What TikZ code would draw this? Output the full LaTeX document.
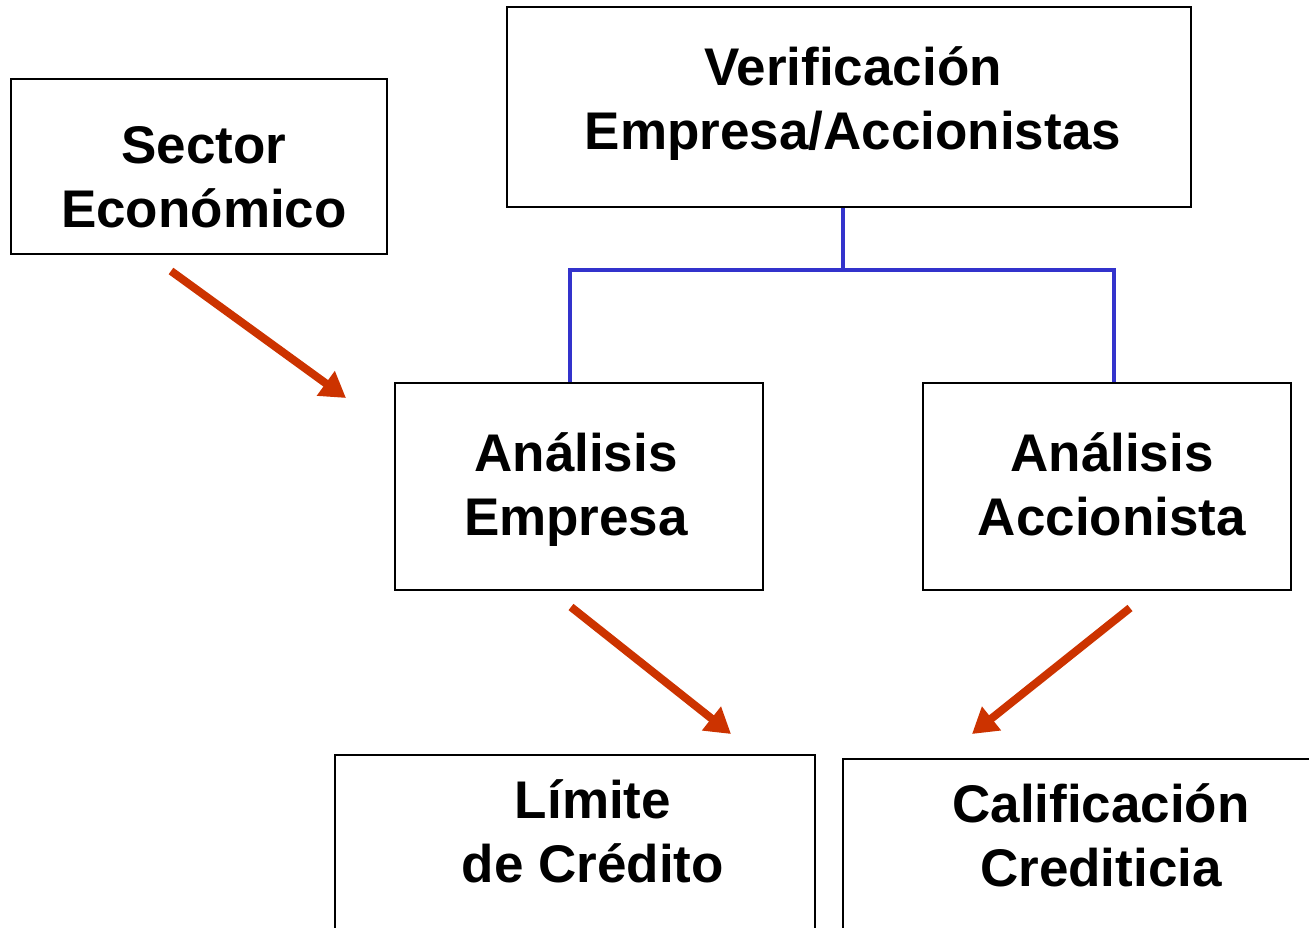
\documentclass[tikz,border=0pt]{standalone}
\usepackage{fontspec}
\setmainfont{Liberation Sans}
\usetikzlibrary{arrows.meta}
\definecolor{redarrow}{HTML}{CC3300}
\definecolor{bluetree}{HTML}{3333CC}
\begin{document}
\begin{tikzpicture}[x=1pt,y=-1pt,
  box/.style={draw=black, line width=2.2pt, rectangle, inner sep=0pt},
  lbl/.style={font=\fontsize{53}{64}\selectfont\bfseries, align=center, inner sep=0pt, anchor=base},
  redarr/.style={draw=redarrow, line width=8pt, -{Triangle[length=25pt,width=29pt]}},
  treeline/.style={draw=bluetree, line width=3.2pt}]
\useasboundingbox (0,0) rectangle (1309,928);
\clip (0,0) rectangle (1309,928);
% boxes
\node[box, minimum width=376pt, minimum height=175pt] (sector) at (199,166.5) {};
\node[box, minimum width=684pt, minimum height=200pt] (verif) at (849,107) {};
\node[box, minimum width=368pt, minimum height=207pt] (ae) at (579,486.5) {};
\node[box, minimum width=368pt, minimum height=207pt] (ac) at (1107,486.5) {};
\node[box, minimum width=480pt, minimum height=300pt] (lim) at (575,905) {};
\node[box, minimum width=520pt, minimum height=300pt] (cal) at (1103,909) {};
% texts (base anchor = baseline of last line)
\node[lbl] (sectorT) at (204,228) {Sector\\Económico};
\node[lbl] (verifT) at (853,150) {Verificación\\Empresa/Accionistas};
\node[lbl] (aeT) at (576,535) {Análisis\\Empresa};
\node[lbl] (acT) at (1112,535) {Análisis\\Accionista};
\node[lbl] (limT) at (593,882) {Límite\\de Crédito};
\node[lbl] (calT) at (1101,886) {Calificación\\Crediticia};
% blue tree
\coordinate (j) at (843,270);
\coordinate (jl) at (570,270);
\coordinate (jr) at (1114,270);
\draw[treeline] (verif.south -| j) -- (j);
\draw[treeline] (ae.north -| jl) -- (jl) -- (jr) -- (ac.north -| jr);
% red arrows
\coordinate (a1s) at (171,271);
\coordinate (a1e) at (346,398);
\coordinate (a2s) at (571,607);
\coordinate (a2e) at (731,734);
\coordinate (a3s) at (1130,608);
\coordinate (a3e) at (972,734);
\draw[redarr] (a1s) -- (a1e);
\draw[redarr] (a2s) -- (a2e);
\draw[redarr] (a3s) -- (a3e);
\end{tikzpicture}
\end{document}
